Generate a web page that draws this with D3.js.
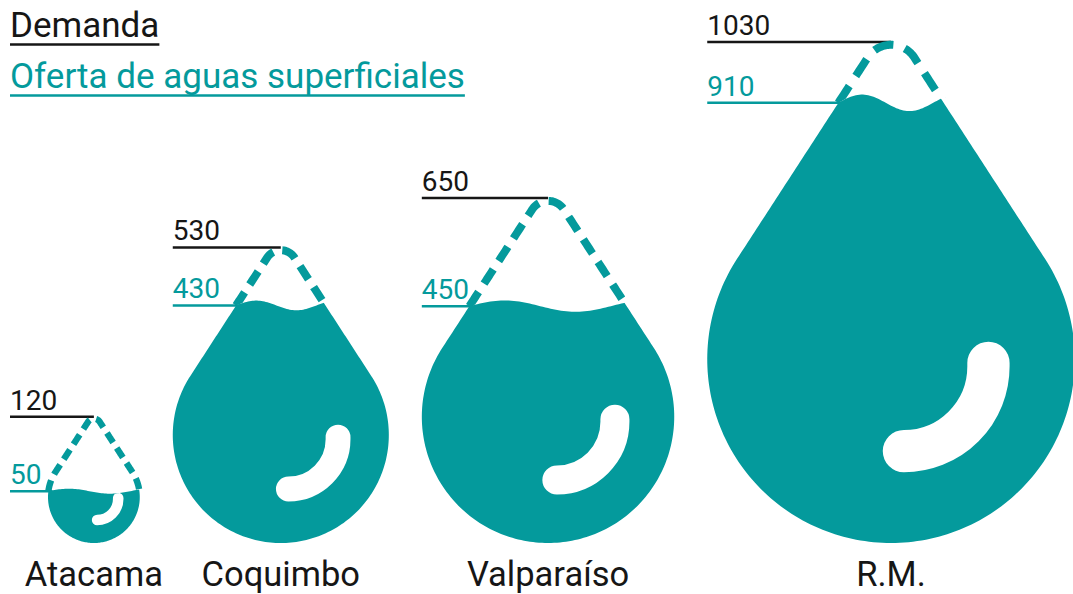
<!DOCTYPE html>
<html><head><meta charset="utf-8">
<script src="https://cdn.jsdelivr.net/npm/d3@7"></script>
<style>body{margin:0;background:#fff} svg{display:block} text{font-family:Roboto, "Noto Sans", sans-serif}</style>
</head><body><svg id="c" width="1073" height="594"></svg>
<script>
const regions = ["Atacama", "Coquimbo", "Valparaíso", "R.M."];
const demand = [120, 530, 650, 1030];
const supply = [50, 430, 450, 910];
const legendLabels = ["Demanda", "Oferta de aguas superficiales"];

const W = 1073, H = 594;
const teal = "#049a9c", ink = "#161616";
const baseline = 543, firstLeft = 48, gap = 33;
const alpha = 33 * Math.PI / 180, sinA = Math.sin(alpha), cosA = Math.cos(alpha);

const svg = d3.select("#c");
const defs = svg.append("defs");

const rScale = d3.scaleLinear().domain([0, d3.max(demand)]).range([27.7, 183.8]);

let left = firstLeft;
const drops = regions.map((name, i) => {
  const r = rScale(demand[i]);
  const cx = left + r; left += 2 * r + gap;
  const cy = baseline - r;
  const D = r / sinA, rho = 0.15 * r;
  const tcy = cy - D + rho / sinA;
  const tipTop = tcy - rho;
  const y = d3.scaleLinear().domain([0, demand[i]]).range([baseline, tipTop]);
  return {name, i, r, cx, cy, rho, tcy, tipTop, y, dem: demand[i], sup: supply[i]};
});

function outline(d) {
  const pts = [];
  const {cx, cy, r, rho, tcy} = d;
  const arc = (ccx, ccy, rr, a0, a1, n) => { for (let k = 0; k <= n; k++) { const a = a0 + (a1 - a0) * k / n; pts.push([ccx + rr * Math.cos(a), ccy + rr * Math.sin(a)]); } };
  const seg = (p0, p1, n) => { for (let k = 1; k < n; k++) { const t = k / n; pts.push([p0[0] + (p1[0] - p0[0]) * t, p0[1] + (p1[1] - p0[1]) * t]); } };
  arc(cx, cy, r, Math.PI / 2, Math.PI + alpha, 90);
  const TL = [cx - r * cosA, cy - r * sinA], PL = [cx - rho * cosA, tcy - rho * sinA];
  seg(TL, PL, 60);
  arc(cx, tcy, rho, Math.PI + alpha, 2 * Math.PI - alpha, 40);
  const PR = [cx + rho * cosA, tcy - rho * sinA], TR = [cx + r * cosA, cy - r * sinA];
  seg(PR, TR, 60);
  arc(cx, cy, r, -alpha, Math.PI / 2, 90);
  return pts;
}

function upperPart(pts, yL) {
  let i1 = pts.findIndex(p => p[1] < yL);
  let i2 = pts.length - 1 - [...pts].reverse().findIndex(p => p[1] < yL);
  const lerp = (a, b) => { const t = (yL - a[1]) / (b[1] - a[1]); return [a[0] + (b[0] - a[0]) * t, yL]; };
  const start = lerp(pts[i1 - 1], pts[i1]);
  const end = lerp(pts[i2], pts[i2 + 1]);
  return [start, ...pts.slice(i1, i2 + 1), end];
}

const line = d3.line();

// Legend
const legY = [37, 88];
const legColor = [ink, teal];
legendLabels.forEach((t, k) => {
  const tx = svg.append("text").attr("x", 10).attr("y", legY[k]).attr("font-size", 35)
    .attr("fill", legColor[k]).text(t);
  const w = tx.node().getComputedTextLength();
  svg.append("line").attr("x1", 10).attr("x2", 10 + w).attr("y1", legY[k] + 7.5).attr("y2", legY[k] + 7.5)
    .attr("stroke", legColor[k]).attr("stroke-width", 2.5);
});

drops.forEach(d => {
  const pts = outline(d);
  const levelY = d.y(d.sup);
  const up = upperPart(pts, levelY);
  const xL = up[0][0], xR = up[up.length - 1][0];
  const A = Math.max(2.5, 0.045 * d.r);
  const wave = d3.range(0, 61).map(k => { const t = k / 60; return [xL + t * (xR - xL), levelY - A * Math.sin(2 * Math.PI * t / 0.9)]; });
  const wEnd = wave[wave.length - 1];
  const x0 = d.cx - d.r - 20, x1 = d.cx + d.r + 20;
  const below = [[x0, levelY], ...wave, [x1, wEnd[1]], [x1, H + 20], [x0, H + 20]];
  const above = [[x0, levelY], ...wave, [x1, wEnd[1]], [x1, -50], [x0, -50]];
  defs.append("clipPath").attr("id", "below" + d.i).append("path").attr("d", line(below) + "Z");
  defs.append("clipPath").attr("id", "above" + d.i).append("path").attr("d", line(above) + "Z");

  const sw = Math.min(8, 5 + 0.03 * d.r);
  const dash = Math.min(20, 8 + 0.07 * d.r);
  const g = svg.append("g");

  // demand & supply lines
  const labelX = d.i === 0 ? 10 : d.cx - d.r;
  const demY = d.tipTop - sw / 2 + 1.2;
  g.append("line").attr("x1", labelX).attr("x2", d.cx).attr("y1", demY).attr("y2", demY)
    .attr("stroke", ink).attr("stroke-width", 2.5);
  g.append("line").attr("x1", labelX).attr("x2", xL + 4).attr("y1", levelY).attr("y2", levelY)
    .attr("stroke", teal).attr("stroke-width", 2.5);

  // filled part
  g.append("path").attr("d", line(pts) + "Z").attr("fill", teal).attr("clip-path", `url(#below${d.i})`);
  // dashed upper outline
  g.append("path").attr("d", line(up)).attr("fill", "none").attr("stroke", teal)
    .attr("stroke-width", sw).attr("stroke-dasharray", `${dash},${dash * 0.6}`)
    .attr("clip-path", `url(#above${d.i})`);

  // highlight
  const acx = d.cx + 0.07 * d.r, acy = d.cy + 0.04 * d.r, R = 0.46 * d.r;
  g.append("path").attr("d", `M${acx + R},${acy - 0.02 * d.r} L${acx + R},${acy} A${R},${R} 0 0 1 ${acx},${acy + R}`)
    .attr("fill", "none").attr("stroke", "#fff").attr("stroke-width", 0.23 * d.r).attr("stroke-linecap", "round")
    .attr("clip-path", `url(#below${d.i})`);

  // value labels
  g.append("text").attr("x", labelX).attr("y", demY - 7).attr("font-size", 28).attr("fill", ink).text(d.dem);
  g.append("text").attr("x", labelX).attr("y", levelY - 7).attr("font-size", 28).attr("fill", teal).text(d.sup);

  // category label
  g.append("text").attr("x", d.cx).attr("y", 585.5).attr("text-anchor", "middle").attr("font-size", 34.5)
    .attr("fill", ink).text(d.name);
});
</script>
</body></html>
